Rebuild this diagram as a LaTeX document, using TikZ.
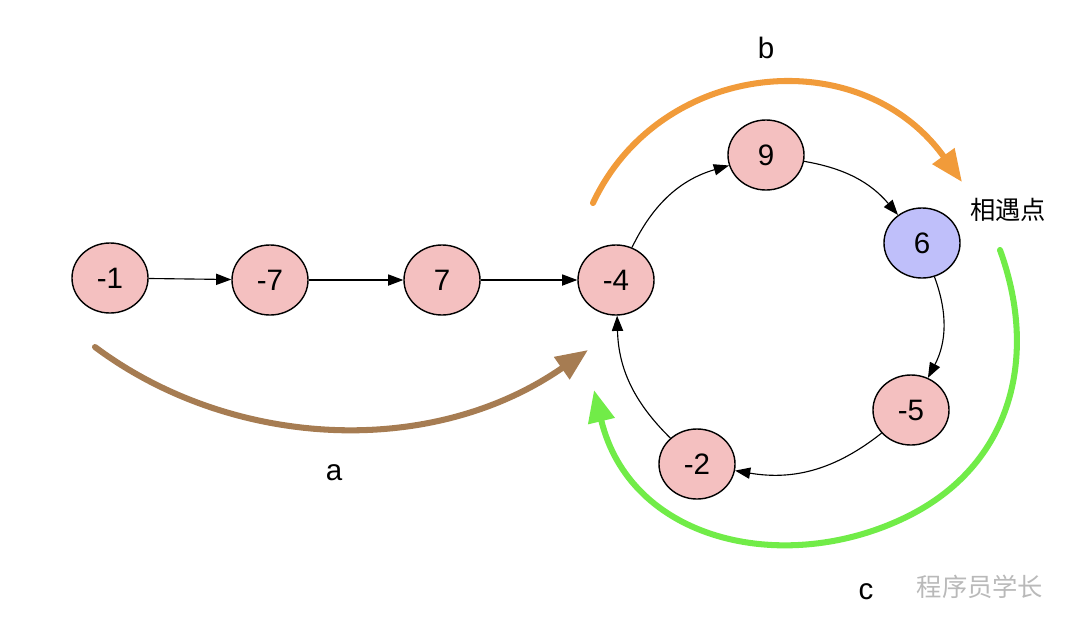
\documentclass[tikz,border=0pt]{standalone}
\usepackage{fontspec}
\setmainfont{Liberation Sans}
\newfontfamily\cjkfont{Noto Sans CJK SC}
\usetikzlibrary{arrows.meta, shapes.geometric, positioning}

\definecolor{nodepink}{RGB}{244,192,192}
\definecolor{nodeblue}{RGB}{191,191,250}
\definecolor{pathbrown}{RGB}{166,124,82}
\definecolor{pathorange}{RGB}{241,155,58}
\definecolor{pathgreen}{RGB}{113,236,72}

\begin{document}
\begin{tikzpicture}[
    x=0.025cm,
    y=-0.025cm,
    font=\fontsize{21}{24}\selectfont,
    elem/.style={
        ellipse,
        draw=black,
        line width=1pt,
        fill=nodepink,
        minimum width=1.9cm,
        minimum height=1.75cm,
        inner sep=0pt
    },
    meet/.style={
        elem,
        fill=nodeblue
    },
    link/.style={
        -{Triangle[length=3.8mm,width=2.8mm]},
        line width=0.8pt
    },
    walk/.style={
        line width=4.3pt,
        line cap=round,
        -{Triangle[length=8mm,width=6.5mm]}
    }
]

\useasboundingbox (0,0) rectangle (1080,634);

% Kette vor dem Ring
\node[elem] (m1) at (110,278) {-1};
\node[elem] (m7) at (270,280) {-7};
\node[elem] (p7) at (442,280) {7};
\node[elem] (m4) at (616,280) {-4};

\draw[link] (m1) -- (m7);
\draw[link] (m7) -- (p7);
\draw[link] (p7) -- (m4);

% Ring
\node[elem] (p9) at (766,155) {9};
\node[meet] (p6) at (922,243) {6};
\node[elem] (m5) at (911,410) {-5};
\node[elem] (m2) at (697,464) {-2};

\draw[link] (m4) to[bend left=24] (p9);
\draw[link] (p9) to[bend left=20] (p6);
\draw[link] (p6) to[bend left=24] (m5);
\draw[link] (m5) to[bend left=24] (m2);
\draw[link] (m2) to[bend left=22] (m4);

% Wege a, b, c
\coordinate (a0) at (95,347);
\coordinate (a1) at (588,350);
\draw[walk, pathbrown]
    (a0) .. controls (230,448) and (430,460) .. (a1);

\coordinate (b0) at (593,203);
\coordinate (b1) at (962,182);
\draw[walk, pathorange]
    (b0) .. controls (660,60) and (860,40) .. (b1);

\coordinate (c0) at (1000,250);
\coordinate (c1) at (594,390);
\draw[walk, pathgreen]
    (c0) .. controls (1040,360) and (1010,470) .. (900,520)
    .. controls (780,575) and (630,540) .. (c1);

% Beschriftung
\node (la) at (334,473) {a};
\node (lb) at (766,48) {b};
\node (lc) at (866,592) {c};
\node[font=\cjkfont\fontsize{18}{20}\selectfont] (meetlbl) at (1008,210) {相遇点};

% Wasserzeichen
\node[text=gray!55, font=\cjkfont\fontsize{18}{20}\selectfont] (mark) at (980,587) {程序员学长};

\end{tikzpicture}
\end{document}
